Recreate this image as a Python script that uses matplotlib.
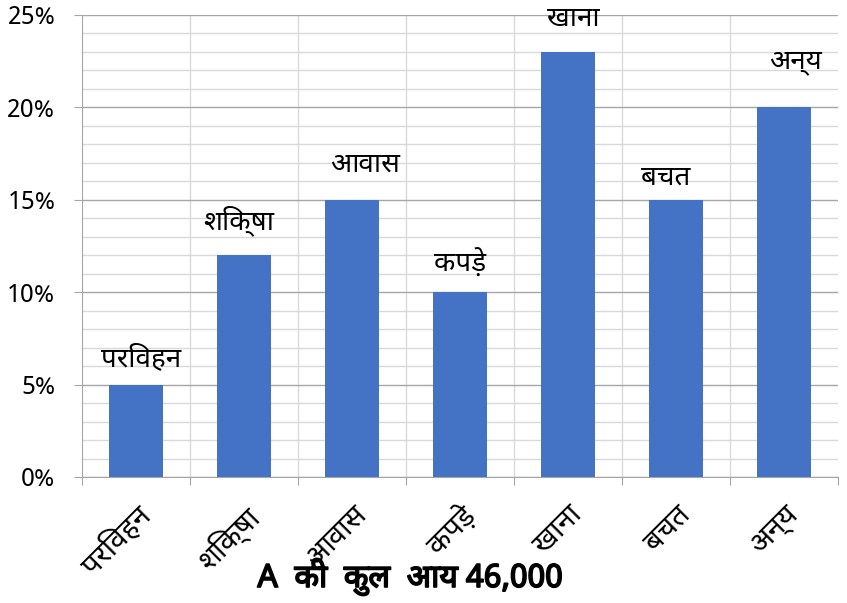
import matplotlib
matplotlib.use("Agg")
import matplotlib.pyplot as plt
from matplotlib.ticker import MultipleLocator, FuncFormatter
from matplotlib import font_manager
import matplotlib.patheffects as pe

categories = ["परिवहन", "शिक्षा", "आवास", "कपड़े", "खाना", "बचत", "अन्य"]
values = [5, 12, 15, 10, 23, 15, 20]
title = "A  की  कुल  आय 46,000"

# label placement offsets (pixels) for the data labels above bars
label_dx = [5, -5, 13, 0, 5, -10, 12]
label_dy = [25, 34, 35, 28, 33, 22, 46]

avail = {f.name for f in font_manager.fontManager.ttflist}
fams = [f for f in ["Noto Sans Devanagari", "Lohit Devanagari", "Mangal", "Nirmala UI", "FreeSans", "Noto Sans", "DejaVu Sans"] if f in avail]
plt.rcParams['font.family'] = fams

fig = plt.figure(figsize=(8.47, 6.03), dpi=100)
ax = fig.add_axes([82/847, 1-477/603, (838-82)/847, (477-15)/603])

x = list(range(len(categories)))
ax.bar(x, values, width=0.5, color="#4472C4", zorder=3)
ax.set_xlim(-0.5, len(categories)-0.5)
ax.set_ylim(0, 25)
ax.yaxis.set_major_locator(MultipleLocator(5))
ax.yaxis.set_minor_locator(MultipleLocator(1))
ax.yaxis.set_major_formatter(FuncFormatter(lambda v, p: f"{int(v)}%"))
ax.grid(which="major", axis="y", color="#A6A6A6", lw=1.0, zorder=0)
ax.grid(which="minor", axis="y", color="#D9D9D9", lw=1.0, zorder=0)
for b in [i + 0.5 for i in range(len(categories) - 1)]:
    ax.axvline(b, color="#D9D9D9", lw=1.0, zorder=0)
ax.set_xticks([i - 0.5 for i in range(len(categories) + 1)])
ax.set_xticklabels([])
ax.set_xticks(x, minor=True)
ax.set_xticklabels(categories, minor=True, rotation=45, ha="right", va="top", fontsize=21, rotation_mode="anchor")
ax.tick_params(axis="x", which="major", length=6, color="#A6A6A6")
ax.tick_params(axis="x", which="minor", length=0, pad=17)
ax.tick_params(axis="y", which="major", length=6, color="#A6A6A6", labelsize=18, pad=13)
ax.tick_params(axis="y", which="minor", length=0)
for s in ["top", "right"]:
    ax.spines[s].set_visible(False)
for s in ["left", "bottom"]:
    ax.spines[s].set_color("#A6A6A6")
for i, v in enumerate(values):
    ax.annotate(categories[i], (i, v), xytext=(label_dx[i]*0.72, label_dy[i]*0.72),
                textcoords="offset points", ha="center", va="center", fontsize=20)
fig.text(410/847, 1-577/603, title, ha="center", va="center", fontsize=23, fontweight="bold",
         path_effects=[pe.withStroke(linewidth=1.2, foreground="black")], zorder=5)
fig.savefig("out.png", dpi=100)
